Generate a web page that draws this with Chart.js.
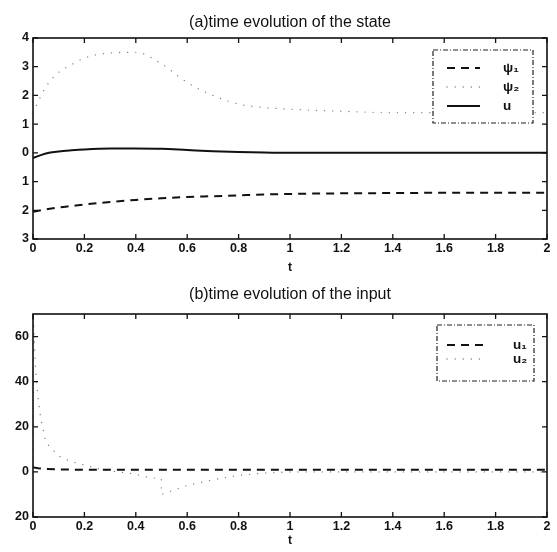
<!DOCTYPE html>
<html>
<head>
<meta charset="utf-8">
<script src="https://cdn.jsdelivr.net/npm/chart.js@4.4.1/dist/chart.umd.min.js"></script>
<style>
  body { margin: 0; background: #fff; }
  canvas { position: absolute; left: 0; }
</style>
</head>
<body>
<canvas id="stateChart" width="557" height="278" style="top:0"></canvas>
<canvas id="inputChart" width="557" height="274" style="top:278px"></canvas>
<script>
// time axis ticks (shared)
const xTicks = [0, 0.2, 0.4, 0.6, 0.8, 1, 1.2, 1.4, 1.6, 1.8, 2];

// (a) state
const tState = [0, 0.05, 0.1, 0.15, 0.2, 0.3, 0.4, 0.5, 0.6, 0.7, 0.8, 0.9, 1.0, 1.2, 1.4, 1.6, 1.8, 2.0];
const psi1 = [-2.05, -1.97, -1.9, -1.85, -1.8, -1.71, -1.64, -1.58, -1.54, -1.51, -1.48, -1.45, -1.43, -1.41, -1.4, -1.39, -1.39, -1.39];
const psi2 = [1.4, 2.3, 2.8, 3.07, 3.3, 3.48, 3.5, 3.1, 2.45, 2.0, 1.7, 1.58, 1.52, 1.45, 1.4, 1.4, 1.4, 1.4];
const uState = [-0.18, -0.02, 0.05, 0.09, 0.12, 0.15, 0.15, 0.14, 0.1, 0.06, 0.03, 0.01, 0, 0, 0, 0, 0, 0];
const yTicksState = [-3, -2, -1, 0, 1, 2, 3, 4];

// (b) input
const tInput = [0, 0.002, 0.01, 0.02, 0.03, 0.05, 0.1, 0.15, 0.2, 0.25, 0.3, 0.4, 0.45, 0.499, 0.5, 0.55, 0.6, 0.7, 0.8, 0.9, 1.0, 1.2, 1.4, 1.6, 1.8, 2.0];
const u1 = [2, 2, 1.8, 1.6, 1.5, 1.3, 1.1, 1, 1, 1, 1, 1, 1, 1, 1, 1, 1, 1, 1, 1, 1, 1, 1, 1, 1, 1];
const u2 = [-15, 68, 45, 32, 24, 13, 7, 4.5, 3, 1.5, 0.5, -1, -2.5, -3, -10, -8, -6, -3.5, -1.5, -0.5, 0, 0, 0, 0, 0, 0];
const yTicksInput = [-20, 0, 20, 40, 60];

Chart.defaults.font.family = '"Liberation Sans", Arial, sans-serif';
Chart.defaults.color = '#111';

const pts = (xs, ys) => xs.map((x, i) => ({ x: x, y: ys[i] }));

const dashed = { borderColor: '#111', borderWidth: 2, borderDash: [8, 6], pointRadius: 0, fill: false };
const dotted = { borderColor: 'rgba(0,0,0,0.5)', borderWidth: 1.3, borderDash: [0.1, 8], borderCapStyle: 'round', pointRadius: 0, fill: false };
const solid = { borderColor: '#111', borderWidth: 2, pointRadius: 0, fill: false };

// matlab-style box with inward ticks
const matlabFrame = {
  id: 'matlabFrame',
  afterDraw(chart) {
    const { ctx, chartArea: a, scales } = chart;
    ctx.save();
    ctx.strokeStyle = '#111';
    ctx.lineWidth = 1.6;
    ctx.strokeRect(a.left, a.top, a.right - a.left, a.bottom - a.top);
    ctx.lineWidth = 1.3;
    ctx.beginPath();
    scales.x.ticks.forEach(t => {
      const px = scales.x.getPixelForValue(t.value);
      ctx.moveTo(px, a.bottom); ctx.lineTo(px, a.bottom - 5);
      ctx.moveTo(px, a.top); ctx.lineTo(px, a.top + 5);
    });
    scales.y.ticks.forEach(t => {
      const py = scales.y.getPixelForValue(t.value);
      ctx.moveTo(a.left, py); ctx.lineTo(a.left + 5, py);
      ctx.moveTo(a.right, py); ctx.lineTo(a.right - 5, py);
    });
    ctx.stroke();
    ctx.restore();
  }
};

// legend box drawn inside the plot
const boxLegend = {
  id: 'boxLegend',
  afterDraw(chart, args, opts) {
    const { ctx, chartArea: a } = chart;
    const x0 = a.right - opts.right - opts.width;
    const y0 = a.top + opts.top;
    ctx.save();
    ctx.fillStyle = '#fff';
    ctx.fillRect(x0, y0, opts.width, opts.height);
    ctx.strokeStyle = '#222';
    ctx.lineWidth = 1.2;
    ctx.setLineDash([5, 2, 1, 2]);
    ctx.strokeRect(x0, y0, opts.width, opts.height);
    chart.data.datasets.forEach((ds, i) => {
      const y = y0 + opts.firstRow + i * opts.rowGap;
      ctx.beginPath();
      ctx.strokeStyle = ds.borderColor;
      ctx.lineWidth = ds.borderWidth;
      ctx.lineCap = ds.borderCapStyle || 'butt';
      ctx.setLineDash(ds.borderDash || []);
      ctx.moveTo(x0 + opts.sampleX, y);
      ctx.lineTo(x0 + opts.sampleX + opts.sampleLen, y);
      ctx.stroke();
      ctx.fillStyle = '#111';
      ctx.font = 'bold 13.5px "Liberation Sans", Arial, sans-serif';
      ctx.textBaseline = 'middle';
      ctx.fillText(ds.label, x0 + opts.labelX, y);
    });
    ctx.restore();
  }
};

function makeConfig(datasets, yMin, yMax, yTicks, title, titlePad, xTitlePad, xHeight, legendOpts) {
  return {
    type: 'line',
    data: { datasets: datasets },
    options: {
      responsive: false,
      animation: false,
      devicePixelRatio: 1,
      layout: { padding: { left: 0, right: 10, top: 0, bottom: 0 } },
      plugins: {
        legend: { display: false },
        tooltip: { enabled: false },
        title: {
          display: true,
          text: title,
          fullSize: false,
          color: '#111',
          font: { size: 16, weight: 'normal' },
          padding: titlePad
        },
        boxLegend: legendOpts
      },
      scales: {
        x: {
          type: 'linear',
          min: 0, max: 2,
          grid: { display: false, drawTicks: false },
          border: { display: false },
          afterBuildTicks: s => { s.ticks = xTicks.map(v => ({ value: v })); },
          afterFit: s => { s.height = xHeight; },
          ticks: { font: { size: 12.5, weight: 'bold' }, padding: 2, maxRotation: 0, autoSkip: false, callback: v => String(v) },
          title: { display: true, text: 't', font: { size: 12, weight: 'bold' }, padding: { top: 0, bottom: xTitlePad } }
        },
        y: {
          min: yMin, max: yMax,
          grid: { display: false, drawTicks: false },
          border: { display: false },
          afterBuildTicks: s => { s.ticks = yTicks.map(v => ({ value: v })); },
          afterFit: s => { s.width = 33; },
          ticks: { font: { size: 12.5, weight: 'bold' }, padding: 4, callback: v => String(Math.abs(v)) }
        }
      }
    },
    plugins: [matlabFrame, boxLegend]
  };
}

new Chart(document.getElementById('stateChart'), makeConfig([
  Object.assign({ label: 'ψ₁', data: pts(tState, psi1), cubicInterpolationMode: 'monotone' }, dashed),
  Object.assign({ label: 'ψ₂', data: pts(tState, psi2), cubicInterpolationMode: 'monotone' }, dotted),
  Object.assign({ label: 'u', data: pts(tState, uState), cubicInterpolationMode: 'monotone' }, solid)
], -3, 4, yTicksState, '(a)time evolution of the state',
  { top: 13.4, bottom: 5.4 }, 3, 39,
  { right: 14, top: 12, width: 100, height: 73, firstRow: 18, rowGap: 19, sampleX: 14, sampleLen: 33, labelX: 70 }));

new Chart(document.getElementById('inputChart'), makeConfig([
  Object.assign({ label: 'u₁', data: pts(tInput, u1) }, dashed),
  Object.assign({ label: 'u₂', data: pts(tInput, u2) }, dotted)
], -20, 70, yTicksInput, '(b)time evolution of the input',
  { top: 7.4, bottom: 9.4 }, 4, 35,
  { right: 13, top: 11, width: 97, height: 56, firstRow: 20, rowGap: 14, sampleX: 10, sampleLen: 36, labelX: 76 }));
</script>
</body>
</html>
